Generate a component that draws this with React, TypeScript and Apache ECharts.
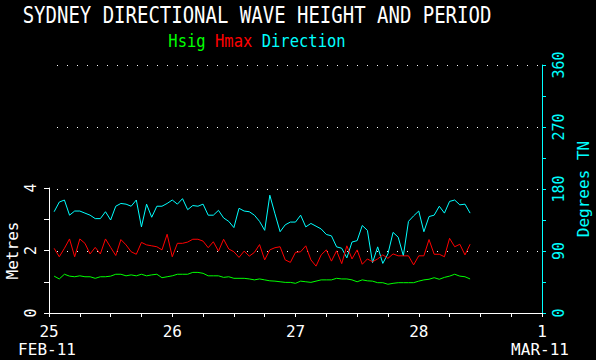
import React, { useEffect, useRef } from "react";
import * as echarts from "echarts";

const titleText = "SYDNEY DIRECTIONAL WAVE HEIGHT AND PERIOD";
const dayLabels = ["25", "26", "27", "28", "1"];
const monthLabels = ["FEB-11", "", "", "", "MAR-11"];
const metreTicks = [0, 2, 4];
const degreeTicks = [0, 90, 180, 270, 360];

// hourly values starting at 01:00 on 25 Feb
const hsig = [1.18,1.09,1.24,1.18,1.16,1.19,1.16,1.16,1.11,1.16,1.16,1.18,1.24,1.24,1.19,1.22,1.19,1.24,1.19,1.22,1.24,1.13,1.16,1.19,1.24,1.24,1.24,1.30,1.30,1.27,1.19,1.19,1.19,1.14,1.16,1.11,1.11,1.11,1.09,1.06,1.09,1.06,1.03,1.02,1.00,0.98,0.98,0.95,1.02,1.00,0.98,1.02,1.06,1.06,1.06,1.11,1.09,1.09,1.06,1.00,1.06,1.03,1.02,0.97,0.97,0.92,0.95,0.97,0.97,0.97,0.97,1.02,1.06,1.08,1.13,1.08,1.14,1.18,1.24,1.18,1.16,1.09];
const hmax = [2.07,1.80,2.07,2.37,1.80,2.37,2.23,1.89,2.10,1.89,2.37,2.10,1.84,2.35,2.18,1.96,1.88,2.26,2.18,2.15,2.12,2.02,2.52,1.80,2.23,2.23,2.27,2.36,2.36,2.30,2.09,2.28,1.98,2.36,2.05,1.96,1.78,1.98,1.82,1.94,2.19,1.70,2.02,2.09,2.12,1.70,1.62,1.94,1.96,2.15,1.70,1.50,1.86,2.02,1.66,1.99,1.58,2.15,1.73,2.02,1.56,1.73,1.64,1.73,1.86,1.75,1.89,1.83,1.83,1.83,1.54,1.83,1.83,2.35,1.88,1.88,1.80,2.39,2.12,2.20,1.86,2.20];
const direction = [147,161,164,142,148,148,145,142,137,137,147,135,155,159,158,155,164,125,158,139,155,155,159,164,158,166,150,156,155,158,142,142,149,138,133,124,152,148,147,142,133,120,171,144,118,128,132,132,142,125,130,126,122,114,112,96,94,80,103,105,127,120,73,96,72,86,117,110,83,133,141,148,118,140,142,155,145,162,164,157,158,145];

const FONT = '"DejaVu Sans Mono", monospace';
const WHITE = "#ffffff";
const GREEN = "#00ff00";
const RED = "#ff0000";
const CYAN = "#00ffff";

const toPairs = (arr: number[]) => arr.map((v, i) => [i + 1, v]);

export default function App() {
  const ref = useRef<HTMLDivElement>(null);
  useEffect(() => {
    document.body.style.margin = "0";
    document.body.style.background = "#000";
    const chart = echarts.init(ref.current!, null, { renderer: "svg" });
    const xCommon = {
      type: "value" as const,
      min: 0,
      max: 96,
      interval: 6,
    };
    chart.setOption({
      animation: false,
      backgroundColor: "#000000",
      grid: [
        { left: 49, right: 54, top: 65, bottom: 47, containLabel: false, outerBoundsMode: "none" },
        { left: 49, right: 54, top: 188, bottom: 47, containLabel: false, outerBoundsMode: "none" },
      ],
      graphic: [
        {
          id: "title",
          type: "text",
          x: 257,
          y: 15,
          scaleY: 1.18,
          style: {
            text: titleText,
            fill: WHITE,
            font: `19px ${FONT}`,
            textAlign: "center",
            textVerticalAlign: "middle",
          },
        },
        {
          id: "legend",
          type: "text",
          x: 257,
          y: 41,
          scaleY: 1.1,
          style: {
            text: "{g|Hsig} {r|Hmax} {c|Direction}",
            font: `15.5px ${FONT}`,
            textAlign: "center",
            textVerticalAlign: "middle",
            rich: {
              g: { fill: GREEN, font: `15.5px ${FONT}` },
              r: { fill: RED, font: `15.5px ${FONT}` },
              c: { fill: CYAN, font: `15.5px ${FONT}` },
            },
          },
        },
      ],
      xAxis: [
        {
          ...xCommon,
          gridIndex: 0,
          axisLine: { show: true, onZero: false, lineStyle: { color: WHITE, width: 1 } },
          axisTick: { show: true, length: 4, lineStyle: { color: WHITE } },
          splitLine: { show: false },
          axisLabel: {
            color: WHITE,
            fontFamily: FONT,
            fontSize: 16,
            margin: 10,
            showMinLabel: true,
            showMaxLabel: true,
            formatter: (v: number) => (v % 24 === 0 ? dayLabels[v / 24] : ""),
          },
        },
        { ...xCommon, gridIndex: 1, show: false },
      ],
      yAxis: [
        {
          type: "value",
          gridIndex: 0,
          position: "right",
          min: 0,
          max: 360,
          interval: 45,
          name: "Degrees TN",
          nameLocation: "middle",
          nameRotate: 90,
          nameGap: 33,
          nameMoveOverlap: false,
          nameTextStyle: { color: CYAN, fontFamily: FONT, fontSize: 16 },
          axisLine: { show: true, onZero: false, lineStyle: { color: CYAN, width: 1 } },
          axisTick: { show: true, length: 4, lineStyle: { color: CYAN } },
          axisLabel: { show: false },
          splitLine: { show: false },
        },
        {
          type: "value",
          gridIndex: 1,
          position: "left",
          min: 0,
          max: 4,
          interval: 1,
          name: "Metres",
          nameLocation: "middle",
          nameRotate: 90,
          nameGap: 29,
          nameMoveOverlap: false,
          nameTextStyle: { color: WHITE, fontFamily: FONT, fontSize: 16 },
          axisLine: { show: true, onZero: false, lineStyle: { color: WHITE, width: 1 } },
          axisTick: { show: true, length: 5, lineStyle: { color: WHITE } },
          axisLabel: { show: false },
          splitLine: { show: false },
        },
        {
          // dotted reference lines every 2 m (= 90 degrees) across the full plot
          type: "value",
          gridIndex: 0,
          position: "left",
          min: 0,
          max: 8,
          interval: 2,
          axisLine: { show: false, onZero: false },
          axisTick: { show: false },
          axisLabel: { show: false },
          splitLine: {
            show: true,
            lineStyle: { color: WHITE, width: 1, type: [1, 9], dashOffset: 2 },
          },
        },
      ],
      series: [
        {
          name: "Direction",
          type: "line",
          xAxisIndex: 0,
          yAxisIndex: 0,
          data: toPairs(direction),
          symbol: "none",
          lineStyle: { color: CYAN, width: 1 },
          z: 3,
        },
        {
          name: "Hmax",
          type: "line",
          xAxisIndex: 1,
          yAxisIndex: 1,
          data: toPairs(hmax),
          symbol: "none",
          lineStyle: { color: RED, width: 1 },
          z: 4,
        },
        {
          name: "Hsig",
          type: "line",
          xAxisIndex: 1,
          yAxisIndex: 1,
          data: toPairs(hsig),
          symbol: "none",
          lineStyle: { color: GREEN, width: 1 },
          z: 5,
        },
      ],
    });

    // rotated tick labels and month labels placed through the axes' own scales
    const labelEls: any[] = [];
    metreTicks.forEach((v) => {
      const p = chart.convertToPixel({ xAxisIndex: 1, yAxisIndex: 1 }, [0, v]) as number[];
      labelEls.push({
        id: `ml${v}`,
        type: "text",
        x: p[0] - 18,
        y: p[1],
        rotation: Math.PI / 2,
        style: {
          text: String(v),
          fill: WHITE,
          font: `15px ${FONT}`,
          textAlign: "center",
          textVerticalAlign: "middle",
        },
      });
    });
    degreeTicks.forEach((v) => {
      const p = chart.convertToPixel({ xAxisIndex: 0, yAxisIndex: 0 }, [96, v]) as number[];
      labelEls.push({
        id: `dl${v}`,
        type: "text",
        x: p[0] + 17,
        y: p[1],
        rotation: Math.PI / 2,
        style: {
          text: String(v),
          fill: CYAN,
          font: `15px ${FONT}`,
          textAlign: "center",
          textVerticalAlign: "middle",
        },
      });
    });
    monthLabels.forEach((m, i) => {
      if (!m) return;
      const p = chart.convertToPixel({ xAxisIndex: 0, yAxisIndex: 0 }, [i * 24, 0]) as number[];
      labelEls.push({
        id: `mon${i}`,
        type: "text",
        x: p[0] - 2,
        y: p[1] + 36,
        style: {
          text: m,
          fill: WHITE,
          font: `16px ${FONT}`,
          textAlign: "center",
          textVerticalAlign: "middle",
        },
      });
    });
    chart.setOption({ graphic: { elements: labelEls } });

    return () => chart.dispose();
  }, []);
  return <div ref={ref} style={{ width: 596, height: 360, background: "#000" }} />;
}
